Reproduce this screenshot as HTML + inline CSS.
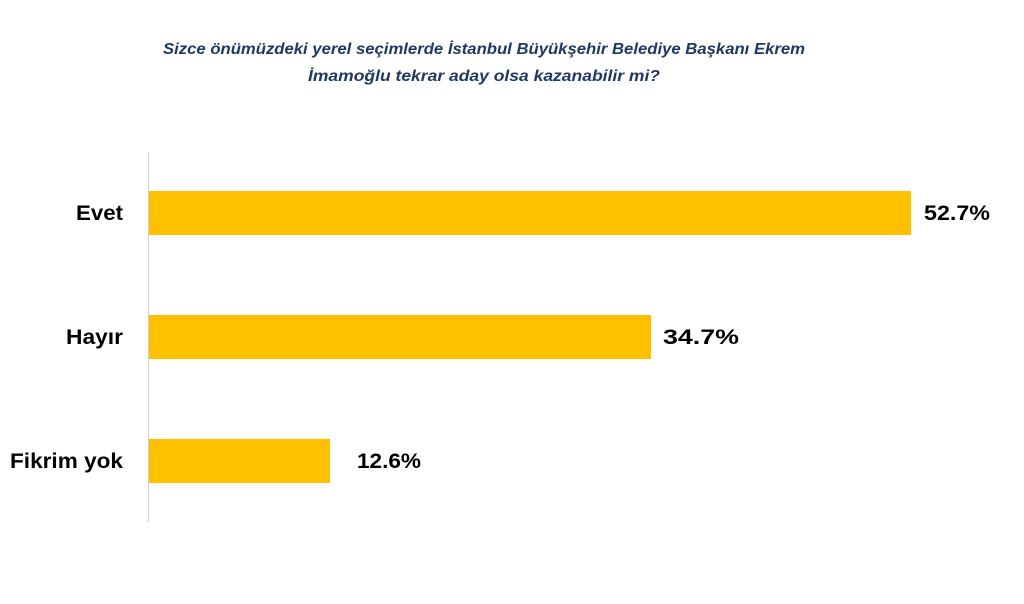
<!DOCTYPE html>
<html><head><meta charset="utf-8"><style>
html,body{margin:0;padding:0;background:#fff;width:1024px;height:604px;overflow:hidden}
</style></head><body>
<svg width="1024" height="604" xmlns="http://www.w3.org/2000/svg" font-family="Liberation Sans, sans-serif">
<text x="484" y="54" text-anchor="middle" font-size="16" font-weight="bold" font-style="italic" fill="#1f3864" textLength="642" lengthAdjust="spacingAndGlyphs">Sizce önümüzdeki yerel seçimlerde İstanbul Büyükşehir Belediye Başkanı Ekrem</text>
<text x="484" y="81" text-anchor="middle" font-size="16" font-weight="bold" font-style="italic" fill="#1f3864" textLength="352" lengthAdjust="spacingAndGlyphs">İmamoğlu tekrar aday olsa  kazanabilir  mi?</text>
<line x1="148.5" y1="152" x2="148.5" y2="522" stroke="#d0d0d0" stroke-width="1"/>
<rect x="149" y="191" width="762" height="44" fill="#ffc000"/>
<rect x="149" y="315" width="502" height="44" fill="#ffc000"/>
<rect x="149" y="439" width="181" height="44" fill="#ffc000"/>
<g font-size="21" font-weight="bold" fill="#000" lengthAdjust="spacingAndGlyphs">
<text x="76" y="220" textLength="47" lengthAdjust="spacingAndGlyphs">Evet</text>
<text x="66" y="344" textLength="57" lengthAdjust="spacingAndGlyphs">Hayır</text>
<text x="10" y="468" textLength="113" lengthAdjust="spacingAndGlyphs">Fikrim yok</text>
<text x="924" y="220" textLength="66" lengthAdjust="spacingAndGlyphs">52.7%</text>
<text x="663" y="344" textLength="76" lengthAdjust="spacingAndGlyphs">34.7%</text>
<text x="357" y="468" textLength="64" lengthAdjust="spacingAndGlyphs">12.6%</text>
</g>
</svg>
</body></html>
